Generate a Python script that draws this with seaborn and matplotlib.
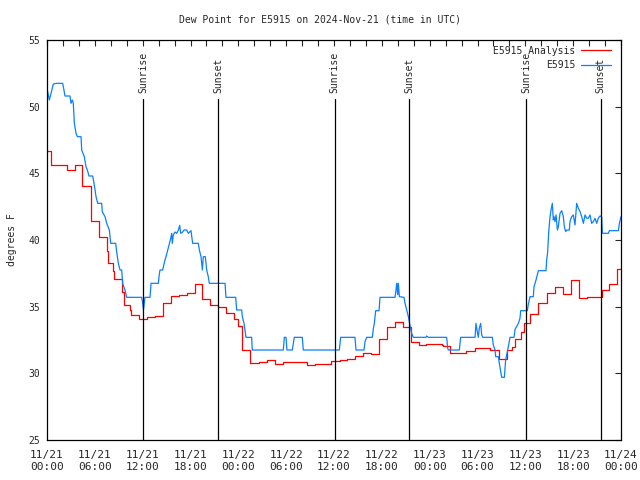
import pandas as pd
import matplotlib.pyplot as plt
import matplotlib.dates as mdates
import seaborn as sns

start = pd.Timestamp('2024-11-21 00:00')

# analysis series, step values (hours since start, degF)
analysis_hours = [0.0, 0.5, 2.5, 3.5, 4.45, 5.5, 6.5, 7.5, 7.6, 8.3, 8.4, 9.45, 9.6,
                  10.45, 10.55, 11.6, 12.5, 13.55, 14.5, 15.55, 16.6, 17.5, 18.55,
                  19.5, 20.5, 21.5, 22.5, 23.5, 24.0, 24.4, 24.5, 25.5, 26.6, 27.6,
                  28.6, 29.6, 32.6, 33.6, 35.6, 36.8, 37.6, 38.6, 39.7, 40.7, 41.7,
                  42.6, 43.7, 44.6, 45.6, 46.7, 47.6, 49.5, 49.65, 50.6, 52.6, 53.7,
                  55.6, 56.65, 57.7, 58.3, 58.7, 59.4, 59.8, 60.6, 61.6, 62.7, 63.7,
                  64.7, 65.7, 66.7, 67.7, 69.6, 70.5, 71.5, 72.0]
analysis_vals = [46.7, 45.6, 45.25, 45.6, 44.05, 41.4, 40.2, 39.2, 38.3, 37.7, 37.1, 36.1, 35.1,
                 34.75, 34.4, 34.1, 34.2, 34.3, 35.25, 35.8, 35.9, 36.05, 36.7,
                 35.55, 35.1, 34.95, 34.5, 34.1, 33.55, 32.7, 31.75, 30.75, 30.85, 30.98,
                 30.7, 30.88, 30.63, 30.68, 30.93, 31.0, 31.1, 31.3, 31.5, 31.43, 32.55,
                 33.45, 33.83, 33.45, 32.38, 32.1, 32.2, 32.1, 32.05, 31.55, 31.7, 31.88,
                 31.75, 31.05, 31.75, 31.95, 32.55, 33.13, 33.75, 34.45, 35.3, 36.0, 36.5,
                 35.95, 37.0, 35.63, 35.7, 36.25, 36.68, 37.8, 37.8]

# station observations
station_hours = [0.0, 0.17, 0.29, 0.46, 0.67, 0.79, 1.21, 1.97, 2.26, 2.88, 3.01, 3.18, 3.3,
                 3.43, 3.64, 3.81, 4.27, 4.35, 4.68, 4.89, 5.06, 5.27, 5.73, 5.9, 6.15,
                 6.36, 6.86, 6.94, 7.28, 7.49, 7.82, 7.99, 8.62, 8.74, 8.95, 9.16, 9.37,
                 9.49, 9.78, 10.0, 11.88, 12.0, 12.1, 12.29, 12.92, 13.05, 13.97, 14.05,
                 14.17, 14.51, 14.6, 14.8, 14.93, 15.14, 15.35, 15.51, 15.64, 15.72, 15.85,
                 16.06, 16.27, 16.48, 16.64, 16.77, 17.02, 17.19, 17.52, 17.73, 18.06,
                 18.27, 18.98, 19.11, 19.32, 19.49, 19.61, 19.86, 20.03, 20.23, 20.36,
                 22.33, 22.45, 23.67, 23.79, 24.42, 24.5, 24.71, 24.96, 25.67, 25.75,
                 29.64, 29.77, 29.98, 30.1, 30.77, 30.9, 31.02, 32.02, 32.15, 36.67,
                 36.84, 38.63, 38.76, 39.76, 39.89, 40.1, 40.81, 40.94, 41.06, 41.23,
                 41.65, 41.77, 43.65, 43.78, 43.86, 43.99, 44.07, 44.2, 44.78, 44.91,
                 45.12, 45.33, 45.53, 45.74, 45.95, 47.54, 47.62, 47.83, 50.13, 50.26,
                 50.35, 51.72, 51.89, 53.69, 53.81, 53.98, 54.1, 54.23, 54.4, 54.52,
                 54.65, 55.86, 55.98, 56.2, 56.28, 56.61, 56.74, 57.03, 57.37, 57.53,
                 57.79, 57.95, 58.08, 58.58, 58.71, 59.13, 59.33, 59.42, 60.25, 60.38,
                 60.59, 61.0, 61.09, 61.34, 61.63, 62.59, 62.68, 62.8, 62.93, 63.1,
                 63.22, 63.39, 63.51, 63.6, 63.72, 63.85, 64.02, 64.14, 64.35, 64.56,
                 64.77, 64.89, 65.06, 65.19, 65.52, 65.6, 65.81, 66.02, 66.23, 66.44,
                 66.65, 66.86, 67.07, 67.28, 67.49, 67.7, 67.9, 68.11, 68.32, 68.53,
                 68.74, 68.95, 69.15, 69.37, 69.58, 69.66, 70.41, 70.54, 71.67, 71.8, 72.0]
station_vals = [51.38, 50.88, 50.5, 50.88, 51.4, 51.7, 51.75, 51.75, 50.8, 50.8, 50.25, 50.5, 50.25,
                48.75, 48.0, 47.75, 47.75, 46.75, 46.25, 45.5, 45.25, 44.8, 44.8, 44.25, 43.25,
                42.75, 42.75, 42.1, 41.75, 41.25, 40.75, 39.75, 39.75, 39.1, 38.25, 37.75, 37.75,
                36.75, 36.25, 35.7, 35.7, 35.25, 34.75, 35.7, 35.7, 36.75, 36.75, 37.25,
                37.75, 37.75, 38.0, 38.5, 38.75, 39.25, 39.75, 40.1, 40.5, 39.75, 40.4,
                40.6, 40.5, 40.75, 41.1, 40.5, 40.6, 40.75, 40.75, 40.5, 40.7,
                39.75, 39.75, 39.25, 38.75, 37.75, 38.75, 38.75, 37.75, 37.25, 36.75,
                36.75, 35.7, 35.7, 34.75, 34.75, 34.25, 33.75, 32.7, 32.7, 31.75,
                31.75, 32.7, 32.7, 31.75, 31.75, 32.25, 32.7, 32.7, 31.75, 31.75,
                32.7, 32.7, 31.75, 31.75, 32.38, 32.7, 32.7, 33.38, 33.75, 34.7,
                34.7, 35.7, 35.7, 36.25, 36.75, 35.9, 36.75, 35.75, 35.7, 35.25,
                34.75, 34.25, 33.6, 33.0, 32.7, 32.7, 32.8, 32.7, 32.7, 31.88,
                31.75, 31.75, 32.7, 32.7, 33.75, 33.1, 32.7, 33.4, 33.75, 32.9,
                32.7, 32.7, 32.13, 31.75, 31.25, 31.25, 30.75, 29.7, 29.7, 31.0,
                31.75, 32.25, 32.7, 32.7, 33.3, 33.75, 34.13, 34.7, 34.7, 35.2,
                35.75, 35.75, 36.5, 37.0, 37.7, 37.7, 38.5, 39.1, 40.6, 41.75,
                42.25, 42.75, 41.5, 41.75, 41.38, 41.88, 40.75, 41.0, 42.0, 42.2,
                41.75, 41.0, 40.63, 40.75, 40.75, 41.38, 41.75, 41.88, 41.13, 42.75,
                42.38, 42.13, 41.75, 41.25, 41.88, 41.63, 41.63, 41.88, 41.25, 41.38,
                41.63, 41.25, 41.63, 41.8, 41.75, 40.5, 40.5, 40.7, 40.7, 41.25, 41.75]

sun_times = ['2024-11-21 12:03', '2024-11-21 21:27', '2024-11-22 12:04',
             '2024-11-22 21:27', '2024-11-23 12:05', '2024-11-23 21:26']
sun_labels = ['Sunrise', 'Sunset', 'Sunrise', 'Sunset', 'Sunrise', 'Sunset']

analysis = pd.DataFrame({'time': start + pd.to_timedelta(analysis_hours, unit='h'),
                         'dewpoint': analysis_vals})
station = pd.DataFrame({'time': start + pd.to_timedelta(station_hours, unit='h'),
                        'dewpoint': station_vals})

sns.set_style('white')
plt.rcParams['font.family'] = ['DejaVu Sans Mono']
plt.rcParams['font.size'] = 7

fig = plt.figure(figsize=(6.4, 4.8), dpi=100)
ax = fig.add_axes([47 / 640, 40 / 480, 574 / 640, 400 / 480])

sns.lineplot(x='time', y='dewpoint', data=analysis, ax=ax, color='#ff0000',
             linewidth=0.9, drawstyle='steps-post', estimator=None, sort=False,
             label='E5915 Analysis')
sns.lineplot(x='time', y='dewpoint', data=station, ax=ax, color='#0a80ff',
             linewidth=0.9, estimator=None, sort=False, label='E5915')

# sunrise / sunset markers
for t, lab in zip(sun_times, sun_labels):
    t = pd.Timestamp(t)
    ax.plot([t, t], [25, 50.6], color='black', linewidth=0.9)
    ax.text(t, 51.0, lab, rotation=90, ha='center', va='bottom', fontsize=7)

ax.set_xlim(start, start + pd.Timedelta(hours=72))
ax.set_ylim(25, 55)
ax.set_yticks(range(25, 56, 5))
ax.xaxis.set_major_locator(mdates.HourLocator(byhour=[0, 6, 12, 18]))
ax.xaxis.set_minor_locator(mdates.HourLocator(interval=2))
ax.xaxis.set_major_formatter(mdates.DateFormatter('%m/%d\n%H:%M'))
ax.tick_params(which='both', direction='in', length=4, width=0.8,
               top=True, right=True, labelsize=7)
ax.tick_params(axis='x', pad=7, labelsize=8)
ax.tick_params(axis='y', pad=5)
for lbl in ax.get_xticklabels():
    lbl.set_linespacing(1.3)
for side in ax.spines.values():
    side.set_linewidth(0.9)
    side.set_color('black')

ax.set_xlabel('')
ax.set_ylabel('')
fig.text(12 / 640, 0.5, 'degrees F', rotation=90, ha='center', va='center', fontsize=7)
fig.text(0.5, 1 - 19 / 480, 'Dew Point for E5915 on 2024-Nov-21 (time in UTC)',
         ha='center', va='center', fontsize=7)

ax.legend(loc='upper right', bbox_to_anchor=(0.993, 1.0), frameon=False,
          markerfirst=False, handlelength=3.1, borderaxespad=0.2,
          labelspacing=0.45, handletextpad=0.6, fontsize=7)

fig.savefig('out.png', dpi=100)
